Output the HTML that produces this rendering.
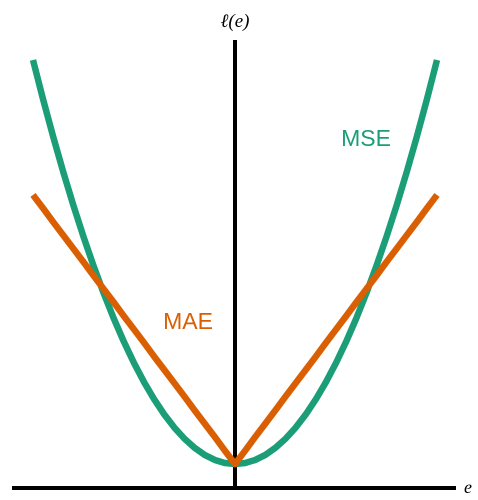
<!DOCTYPE html>
<html><head><meta charset="utf-8"><style>
html,body{margin:0;padding:0;background:#fff;}
svg{display:block;}
</style></head><body>
<svg id="chart" width="478" height="500" viewBox="0 0 478 500">
  <line x1="12" y1="488" x2="456" y2="488" stroke="#000" stroke-width="4"/>
  <line x1="235" y1="40" x2="235" y2="490" stroke="#000" stroke-width="4"/>
  <text x="468" y="493" font-family="Liberation Serif, serif" font-style="italic" font-size="18" text-anchor="middle">e</text>
  <text x="235" y="27" font-family="Liberation Serif, serif" font-style="italic" font-size="19" text-anchor="middle">ℓ(e)</text>
  <g id="series"></g>
  <text x="366" y="146" font-family="Liberation Sans, sans-serif" font-size="23" fill="#1b9e77" text-anchor="middle">MSE</text>
  <text x="188" y="329" font-family="Liberation Sans, sans-serif" font-size="23" fill="#d95f02" text-anchor="middle">MAE</text>
</svg>
<script>
const errors = [-1,-0.95,-0.9,-0.85,-0.8,-0.75,-0.7,-0.65,-0.6,-0.55,-0.5,-0.45,-0.4,-0.35,-0.3,-0.25,-0.2,-0.15,-0.1,-0.05,0,0.05,0.1,0.15,0.2,0.25,0.3,0.35,0.4,0.45,0.5,0.55,0.6,0.65,0.7,0.75,0.8,0.85,0.9,0.95,1];
const mseValues = [1,0.9025,0.81,0.7225,0.64,0.5625,0.49,0.4225,0.36,0.3025,0.25,0.2025,0.16,0.1225,0.09,0.0625,0.04,0.0225,0.01,0.0025,0,0.0025,0.01,0.0225,0.04,0.0625,0.09,0.1225,0.16,0.2025,0.25,0.3025,0.36,0.4225,0.49,0.5625,0.64,0.7225,0.81,0.9025,1];
const maeValues = [0.666,0.633,0.599,0.566,0.533,0.5,0.466,0.433,0.4,0.366,0.333,0.3,0.266,0.233,0.2,0.167,0.133,0.1,0.067,0.033,0,0.033,0.067,0.1,0.133,0.167,0.2,0.233,0.266,0.3,0.333,0.366,0.4,0.433,0.466,0.5,0.533,0.566,0.599,0.633,0.666];
function xScale(e){return 235 + e*202;}
function yScale(v){return 464 - v*404;}
const g = document.getElementById('series');
function drawLine(vals, color, name){
  let d='';
  for(let i=0;i<errors.length;i++){
    d += (i?'L':'M') + xScale(errors[i]).toFixed(2) + ' ' + yScale(vals[i]).toFixed(2) + ' ';
  }
  const p = document.createElementNS('http://www.w3.org/2000/svg','path');
  p.setAttribute('d', d);
  p.setAttribute('fill','none');
  p.setAttribute('stroke',color);
  p.setAttribute('stroke-width','6.5');
  p.setAttribute('stroke-linejoin','round');
  
  
  g.appendChild(p);
}
drawLine(mseValues, '#1b9e77', 'mse-line');
drawLine(maeValues, '#d95f02', 'mae-line');
</script>
</body></html>
